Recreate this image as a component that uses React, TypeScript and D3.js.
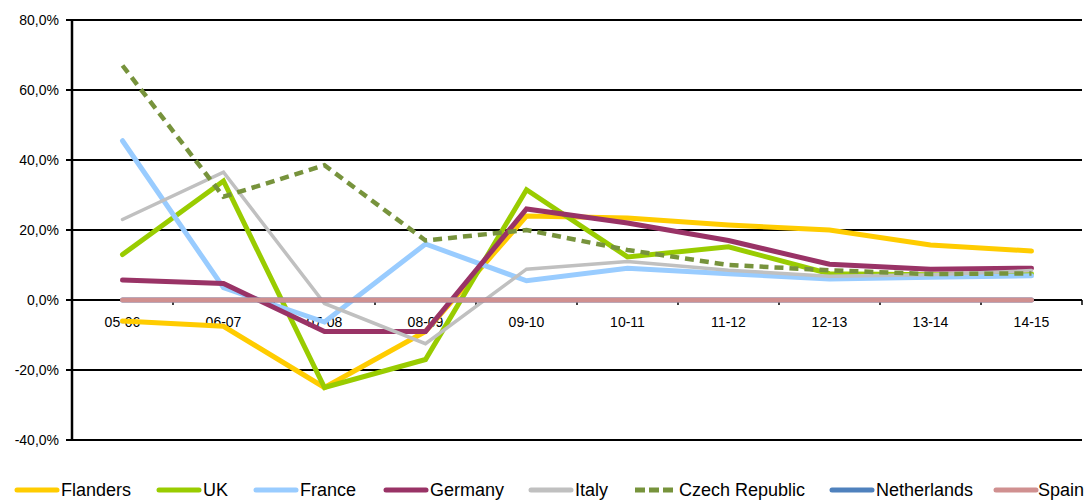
import React from 'react';
import * as d3 from 'd3';

const years = ['05-06', '06-07', '07-08', '08-09', '09-10', '10-11', '11-12', '12-13', '13-14', '14-15'];
const yTicks = [80, 60, 40, 20, 0, -20, -40];

const flanders = [-6, -7.5, -25, -9, 24, 23.4, 21.4, 20, 15.7, 14];
const uk = [13, 34, -25, -17, 31.5, 12.3, 15.2, 7.5, 7.2, 7.5];
const france = [45.5, 3.5, -6.3, 16, 5.5, 9.1, 7.5, 6, 6.5, 6.9];
const germany = [5.7, 4.7, -9, -9, 26, 22, 17, 10.2, 8.8, 9.1];
const italy = [23, 36.5, -1, -12.5, 8.8, 11, 8.5, 6.8, 7.2, 8.4];
const czech = [67, 29.5, 38.5, 17, 20, 14.3, 10, 8.5, 7.4, 7.6];
const netherlands = [0, 0, 0, 0, 0, 0, 0, 0, 0, 0];
const spain = [0, 0, 0, 0, 0, 0, 0, 0, 0, 0];

const series = [
  { name: 'Flanders', values: flanders, color: '#FFCC00', width: 5, dash: '' },
  { name: 'UK', values: uk, color: '#99CC00', width: 5, dash: '' },
  { name: 'France', values: france, color: '#99CCFF', width: 5, dash: '' },
  { name: 'Germany', values: germany, color: '#993366', width: 5, dash: '' },
  { name: 'Italy', values: italy, color: '#C0C0C0', width: 3.5, dash: '' },
  { name: 'Czech Republic', values: czech, color: '#77933C', width: 4.5, dash: '9,6' },
  { name: 'Netherlands', values: netherlands, color: '#4F81BD', width: 5, dash: '' },
  { name: 'Spain', values: spain, color: '#D09090', width: 5, dash: '' },
];

// legend layout (line start x); last one nudged left so "Spain" fits
const legendX = [17, 159, 256, 386, 531, 635, 832, 996];

export default function App() {
  const width = 1090;
  const height = 500;
  const margin = { top: 20, right: 8, bottom: 60, left: 72 };

  const x = d3.scaleBand().domain(years).range([margin.left, width - margin.right]);
  const y = d3.scaleLinear().domain([-40, 80]).range([height - margin.bottom, margin.top]);

  const line = d3.line<number>()
    .x((_, i) => (x(years[i]) as number) + x.bandwidth() / 2)
    .y(d => y(d));

  const fmt = (v: number) => v.toFixed(1).replace('.', ',') + '%';

  return (
    <svg width={width} height={height} style={{ position: 'absolute', left: 0, top: 0, fontFamily: 'Arial, "Liberation Sans", sans-serif' }}>
      <rect width={width} height={height} fill="#fff" />
      {yTicks.map(t => (
        <g key={t}>
          <line x1={margin.left - 6} x2={width - margin.right} y1={y(t)} y2={y(t)} stroke="#000" strokeWidth={2} />
          <text x={margin.left - 13} y={y(t)} dy="0.35em" textAnchor="end" fontSize={14} fill="#000">{fmt(t)}</text>
        </g>
      ))}
      <line x1={margin.left} x2={margin.left} y1={y(80)} y2={y(-40)} stroke="#000" strokeWidth={2.5} />
      {years.map(yr => (
        <line key={'tk' + yr} x1={x(yr) as number} x2={x(yr) as number} y1={y(0)} y2={y(0) + 5} stroke="#000" strokeWidth={1.5} />
      ))}
      <line x1={width - margin.right} x2={width - margin.right} y1={y(0)} y2={y(0) + 5} stroke="#000" strokeWidth={1.5} />
      {years.map(yr => (
        <text key={yr} x={(x(yr) as number) + x.bandwidth() / 2} y={y(0) + 27} textAnchor="middle" fontSize={14} fill="#000">{yr}</text>
      ))}
      {series.map(s => (
        <path key={s.name} d={line(s.values) as string} fill="none" stroke={s.color} strokeWidth={s.width}
          strokeDasharray={s.dash || undefined} strokeLinejoin="miter" strokeLinecap={s.dash ? 'butt' : 'round'} />
      ))}
      {series.map((s, i) => (
        <g key={'lg' + s.name} transform={`translate(${legendX[i]},490)`}>
          <line x1={0} x2={40} y1={0} y2={0} stroke={s.color} strokeWidth={5}
            strokeDasharray={s.dash ? '10,4' : undefined} strokeLinecap={s.dash ? 'butt' : 'round'} />
          <text x={i === series.length - 1 ? 42 : 44} y={0} dy="0.35em" fontSize={18} fill="#000">{s.name}</text>
        </g>
      ))}
    </svg>
  );
}
